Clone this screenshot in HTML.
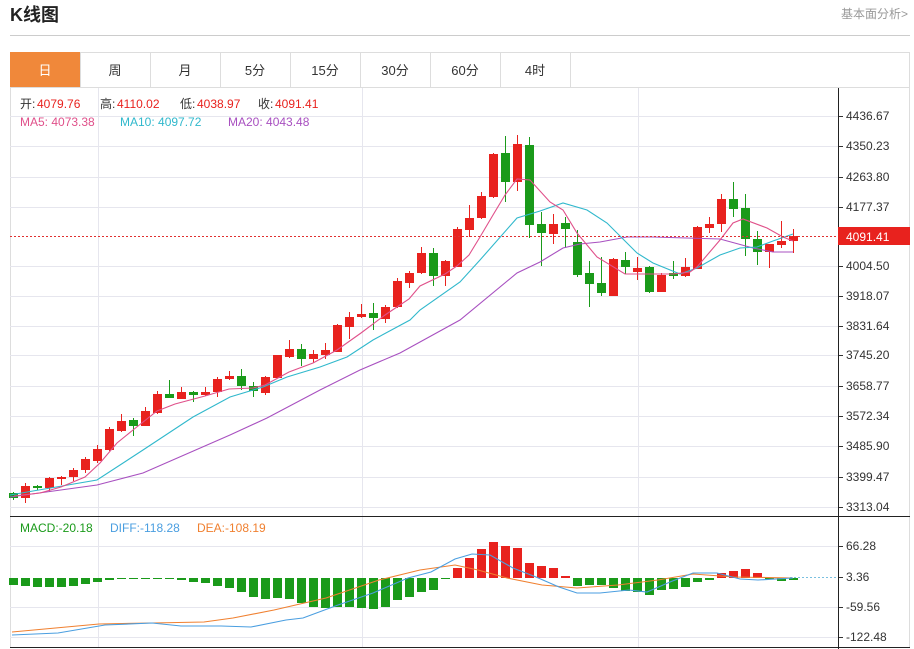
<!DOCTYPE html>
<html><head><meta charset="utf-8">
<style>
html,body{margin:0;padding:0;background:#fff;width:914px;height:649px;overflow:hidden;font-family:"Liberation Sans","Noto Sans CJK SC",sans-serif;}
svg{display:block}
</style></head><body>
<svg id="s" width="914" height="649" xmlns="http://www.w3.org/2000/svg" font-family="Liberation Sans, Noto Sans CJK SC, sans-serif">
<text x="10" y="21" font-size="18" font-weight="bold" fill="#222">K线图</text>
<text x="908" y="18" font-size="12" fill="#999" text-anchor="end">基本面分析&gt;</text>
<line x1="10" y1="35.5" x2="910" y2="35.5" stroke="#ccc"/>
<rect x="10.5" y="52.5" width="899" height="595" fill="none" stroke="#ddd"/>
<line x1="10" y1="87.5" x2="910" y2="87.5" stroke="#ddd"/>
<rect x="10" y="52" width="70" height="35" fill="#f0883a"/>
<g font-size="13" fill="#333" text-anchor="middle">
<text x="45" y="75" fill="#fff">日</text>
<text x="115" y="75">周</text><text x="185" y="75">月</text><text x="255" y="75">5分</text>
<text x="325" y="75">15分</text><text x="395" y="75">30分</text><text x="465" y="75">60分</text><text x="535" y="75">4时</text>
</g>
<g stroke="#ddd"><line x1="80.5" y1="52" x2="80.5" y2="87"/><line x1="150.5" y1="52" x2="150.5" y2="87"/><line x1="220.5" y1="52" x2="220.5" y2="87"/><line x1="290.5" y1="52" x2="290.5" y2="87"/><line x1="360.5" y1="52" x2="360.5" y2="87"/><line x1="430.5" y1="52" x2="430.5" y2="87"/><line x1="500.5" y1="52" x2="500.5" y2="87"/><line x1="570.5" y1="52" x2="570.5" y2="87"/></g>
<g id="grid"></g>
<g id="main"></g>
<line x1="838.5" y1="88" x2="838.5" y2="649" stroke="#222"/>
<line x1="10" y1="516.5" x2="910" y2="516.5" stroke="#222"/>
<line x1="10" y1="647.5" x2="910" y2="647.5" stroke="#222"/>
<line x1="10" y1="236.5" x2="838" y2="236.5" stroke="#e03030" stroke-dasharray="2,2"/>
<rect x="838" y="227" width="72" height="18" fill="#e8221e"/>
<text x="846" y="241" font-size="12" fill="#fff">4091.41</text>
<g font-size="12">
<text x="20" y="108" fill="#333">开:</text><text x="37" y="108" fill="#e8221e">4079.76</text>
<text x="100" y="108" fill="#333">高:</text><text x="117" y="108" fill="#e8221e">4110.02</text>
<text x="180" y="108" fill="#333">低:</text><text x="197" y="108" fill="#e8221e">4038.97</text>
<text x="258" y="108" fill="#333">收:</text><text x="275" y="108" fill="#e8221e">4091.41</text>
<text x="20" y="126" fill="#e0508a">MA5: 4073.38</text>
<text x="120" y="126" fill="#30b8cc">MA10: 4097.72</text>
<text x="228" y="126" fill="#a850c0">MA20: 4043.48</text>
<text x="20" y="532" fill="#1a9a1a">MACD:-20.18</text>
<text x="110" y="532" fill="#4a9ee0">DIFF:-118.28</text>
<text x="197" y="532" fill="#f08030">DEA:-108.19</text>
</g>
</svg>
<script>
var NS="http://www.w3.org/2000/svg",g=document.getElementById('grid'),m=document.getElementById('main');
function el(p,t,a,txt){var e=document.createElementNS(NS,t);for(var k in a)e.setAttribute(k,a[k]);if(txt)e.textContent=txt;p.appendChild(e);return e;}
var ticks=[[116,"4436.67"],[146,"4350.23"],[177,"4263.80"],[207,"4177.37"],[266,"4004.50"],[296,"3918.07"],[326,"3831.64"],[355,"3745.20"],[386,"3658.77"],[416,"3572.34"],[446,"3485.90"],[477,"3399.47"],[507,"3313.04"],[546,"66.28"],[577,"3.36"],[607,"-59.56"],[637,"-122.48"]];
ticks.forEach(function(t){ if(t[1]!="3.36")el(g,'line',{x1:10,y1:t[0]+.5,x2:838,y2:t[0]+.5,stroke:'#e6e6ee'});
el(g,'line',{x1:838,y1:t[0]+.5,x2:843,y2:t[0]+.5,stroke:'#333'});el(g,'text',{x:846,y:t[0]+4,'font-size':12,fill:'#333'},t[1]);});
[98,362,638].forEach(function(x){el(g,'line',{x1:x+.5,y1:88,x2:x+.5,y2:647,stroke:'#e6e6ee'});});
el(g,'line',{x1:790,y1:577.5,x2:838,y2:577.5,stroke:'#7ac0e0','stroke-dasharray':'2,2'});
var C=[["g",493,498,492,500],["r",498,486,483,503],["g",486,488,485,490],["r",488,478,477,492],["r",479,477,476,485],["r",477,470,468,481],["r",470,459,457,473],["r",461,449,445,463],["r",450,429,427,451],["r",431,421,414,432],["g",420,426,418,436],["r",426,411,407,426],["r",413,394,391,414],["g",394,398,380,398],["r",399,392,387,399],["g",392,395,391,402],["r",395,392,387,396],["r",392,379,377,397],["r",379,376,371,380],["g",376,386,369,390],["g",386,391,382,397],["r",393,377,376,395],["r",378,355,355,378],["r",357,349,340,358],["g",349,359,344,366],["r",359,354,350,363],["r",355,350,343,359],["r",352,325,324,352],["r",327,317,312,339],["r",317,314,304,318],["g",313,318,303,330],["r",319,307,305,323],["r",307,281,278,308],["r",283,273,271,288],["r",273,253,247,274],["g",253,276,248,286],["r",276,261,260,286],["r",267,229,227,267],["r",230,218,205,237],["r",218,196,192,219],["r",197,154,153,198],["g",153,182,136,202],["r",182,144,135,191],["g",145,225,137,238],["g",224,233,212,266],["r",234,224,214,244],["g",223,229,217,248],["g",242,275,230,277],["g",273,284,261,307],["g",283,293,257,296],["r",296,259,258,296],["g",260,267,252,274],["r",272,268,257,280],["g",267,292,266,293],["r",292,275,273,292],["g",273,276,261,279],["r",276,267,258,277],["r",269,227,226,269],["r",228,224,217,233],["r",224,199,194,232],["g",199,209,182,217],["g",208,239,194,256],["g",239,252,231,265],["r",252,244,244,268],["r",245,241,221,248],["r",241,236,229,253]];
var H=[585,586,587,587,587,586,584,582,580,579,579,579,578,578,580,582,583,586,588,592,597,599,598,599,603,607,608,607,607,608,609,607,600,597,592,590,579,568,558,549,542,546,548,563,566,568,576,586,585,585,588,591,592,595,590,589,587,582,580,573,571,569,573,579,581,580];
var Z=578;
C.forEach(function(c,i){var x=13+12*i,col=c[0]=="r"?"#e8221e":"#1a9a1a";
el(m,'line',{x1:x+.5,y1:c[3],x2:x+.5,y2:c[4],stroke:col});
var t=Math.min(c[1],c[2]),b=Math.max(c[1],c[2]);el(m,'rect',{x:x-4,y:t,width:9,height:Math.max(b-t,1.5),fill:col});
var h=H[i],hc=h<Z?"#e8221e":"#1a9a1a";el(m,'rect',{x:x-4,y:Math.min(h,Z),width:9,height:Math.max(Math.abs(h-Z),1),fill:hc});});
function pl(pts,col){el(m,'polyline',{points:pts,fill:'none',stroke:col,'stroke-width':1.1});}
pl("10,497 97,485 143,473 230,435 267,418 320,390 360,370 400,353 460,320 517,273 540,262 563,248 580,244 600,242 627,237 653,237 720,239 753,248 773,252 793,252","#a850c0");
pl("10,495 33,491 97,480 143,450 193,417 230,397 263,387 287,377 320,367 347,357 373,340 410,320 420,310 460,282 480,260 517,218 540,211 563,203 587,210 607,223 637,253 653,263 680,274 697,268 720,255 740,248 757,247 773,241 793,234","#30b8cc");
pl("14,496 40,493 61,487 85,477 100,463 117,443 133,430 157,411 175,404 205,396 229,389 253,388 265,385 289,372 313,363 337,350 361,333 385,315 409,299 420,286 445,274 457,266 469,255 480,237 493,215 505,195 517,179 530,180 550,202 563,210 577,233 597,257 625,274 653,274 673,274 690,272 697,267 720,240 733,223 743,219 767,228 783,237 793,241","#e0508a");
pl("12,632 99,624 152,623 204,622 233,618 274,610 326,598 379,580 420,570 455,565 478,570 507,578 542,585 577,588 618,585 658,580 693,574 734,577 793,578","#f08030");
pl("12,635 58,633 105,625 152,623 181,626 221,626 251,627 286,620 303,618 338,605 373,593 408,578 431,572 455,559 472,554 490,555 513,568 536,577 559,587 577,593 600,593 629,590 647,592 670,582 693,573 717,573 740,579 758,580 793,578","#4a9ee0");
</script>
</body></html>
